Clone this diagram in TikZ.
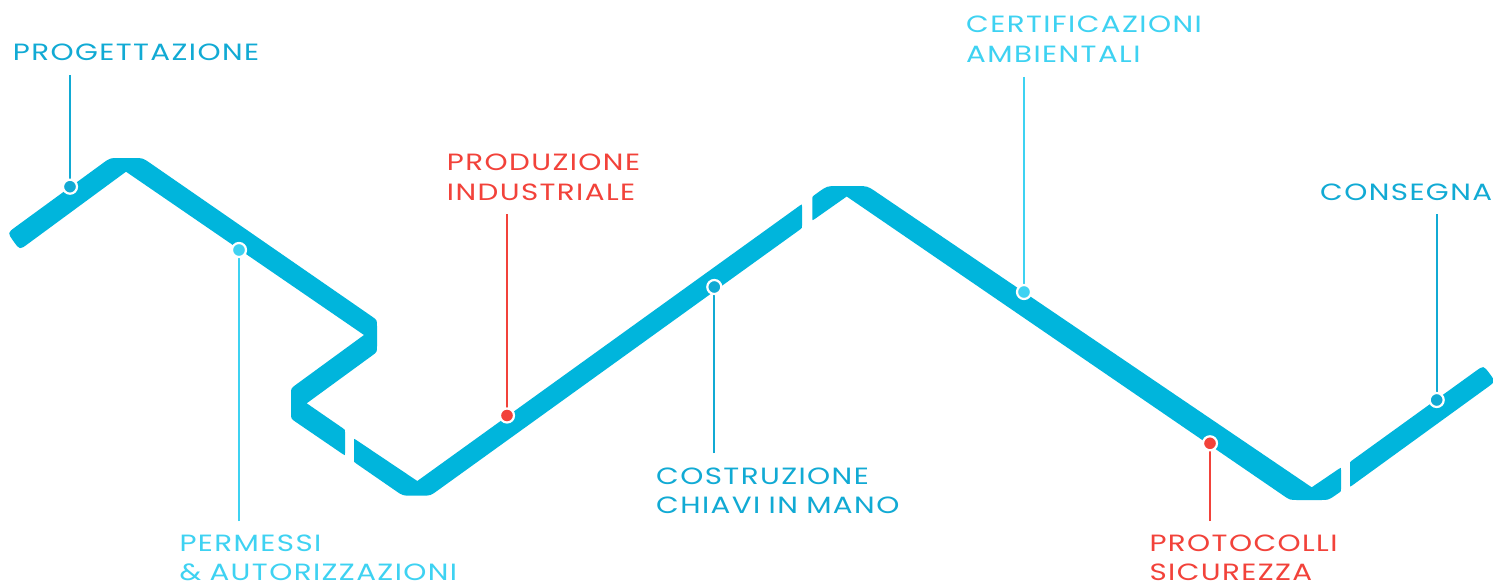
\documentclass[tikz,border=0pt]{standalone}
\usepackage{fontspec}
\setmainfont{Poppins}[FakeStretch=1.25, LetterSpace=6, WordSpace=0.9]
\usetikzlibrary{calc}
\definecolor{linec}{RGB}{0,181,220}
\definecolor{tblue}{RGB}{17,170,212}
\definecolor{tcyan}{RGB}{62,210,242}
\definecolor{tred}{RGB}{242,66,58}
\newcommand\rnd[4]{-- ($(#2)!#4!(#1)$) .. controls (#2) .. ($(#2)!#4!(#3)$)}
\tikzset{
  lbl/.style={inner sep=0pt, anchor=base west, align=left,
    font=\fontsize{23.5}{29.3}\selectfont},
  conn/.style={line width=2pt},
  dot/.style={circle, inner sep=0pt, minimum size=14pt, draw=white, line width=2.2pt},
}
\begin{document}
\begin{tikzpicture}[x=1pt,y=-1pt]
\fill[white] (0,0) rectangle (1493,583);
\useasboundingbox (0,0) rectangle (1493,583);
% piece 1
\coordinate (a1) at (7.5,232.8);
\coordinate (a2) at (110,158);
\coordinate (a3) at (142.8,158);
\coordinate (a4) at (377,320);
\coordinate (a5) at (377,352);
\coordinate (a6) at (306.7,403.3);
\coordinate (a7) at (345,429.7);
\coordinate (a8) at (345,455.6);
\coordinate (a9) at (291,418.7);
\coordinate (a10) at (291,388.3);
\coordinate (a11) at (364,335);
\coordinate (a12) at (126,171.7);
\coordinate (a13) at (19.7,249.9);
\fill[linec] ($(a1)!0.5!(a2)$) \rnd{a1}{a2}{a3}{9pt} \rnd{a2}{a3}{a4}{9pt}
  \rnd{a3}{a4}{a5}{6pt} \rnd{a4}{a5}{a6}{6pt} -- (a6)
  \rnd{a6}{a7}{a8}{2.5pt} \rnd{a7}{a8}{a9}{2.5pt}
  \rnd{a8}{a9}{a10}{6pt} \rnd{a9}{a10}{a11}{6pt} -- (a11) -- (a12)
  \rnd{a12}{a13}{a1}{10pt} \rnd{a13}{a1}{a2}{10pt} -- cycle;
% piece 2
\coordinate (b1) at (354,438.5);
\coordinate (b2) at (354,462);
\coordinate (b3) at (402.8,495.7);
\coordinate (b4) at (430.4,495.7);
\coordinate (b5) at (802,228.1);
\coordinate (b6) at (802,204);
\coordinate (b7) at (417.3,481);
\fill[linec] ($(b7)!0.5!(b1)$) \rnd{b7}{b1}{b2}{2.5pt} \rnd{b1}{b2}{b3}{2.5pt}
  \rnd{b2}{b3}{b4}{9pt} \rnd{b3}{b4}{b5}{9pt}
  \rnd{b4}{b5}{b6}{2.5pt} \rnd{b5}{b6}{b7}{2.5pt} -- (b7) -- cycle;
% piece 3
\coordinate (c1) at (812.3,220.7);
\coordinate (c2) at (812.3,196.6);
\coordinate (c3) at (827,186);
\coordinate (c4) at (867.4,186);
\coordinate (c5) at (1311.7,487.3);
\coordinate (c6) at (1341,467.4);
\coordinate (c7) at (1341,491.4);
\coordinate (c8) at (1328.4,500);
\coordinate (c9) at (1289.9,500);
\coordinate (c10) at (846.7,196.5);
\fill[linec] ($(c10)!0.5!(c1)$) \rnd{c10}{c1}{c2}{2.5pt} \rnd{c1}{c2}{c3}{2.5pt}
  \rnd{c2}{c3}{c4}{11pt} \rnd{c3}{c4}{c5}{11pt} -- (c5)
  \rnd{c5}{c6}{c7}{2.5pt} \rnd{c6}{c7}{c8}{2.5pt}
  \rnd{c7}{c8}{c9}{8pt} \rnd{c8}{c9}{c10}{8pt} -- (c10) -- cycle;
% piece 4
\coordinate (p1) at (1350,461.9);
\coordinate (p2) at (1483.5,365.5);
\coordinate (p3) at (1495.5,381.5);
\coordinate (p4) at (1350,487);
\fill[linec] ($(p1)!0.5!(p2)$) \rnd{p1}{p2}{p3}{9.5pt} \rnd{p2}{p3}{p4}{9.5pt}
  \rnd{p3}{p4}{p1}{2.5pt} \rnd{p4}{p1}{p2}{2.5pt} -- cycle;
% labels (base anchor = last line)
\node[lbl, text=tblue] (t1) at (12.7,60.7) {PROGETTAZIONE};
\node[lbl, text=tcyan] (t2) at (179.3,580.5) {PERMESSI\\\& AUTORIZZAZIONI};
\node[lbl, text=tred] (t3) at (446.7,200) {PRODUZIONE\\INDUSTRIALE};
\node[lbl, text=tblue] (t4) at (656,513.3) {COSTRUZIONE\\CHIAVI IN MANO};
\node[lbl, text=tcyan] (t5) at (966,62.3) {CERTIFICAZIONI\\AMBIENTALI};
\node[lbl, text=tred] (t6) at (1149.3,580.5) {PROTOCOLLI\\SICUREZZA};
\node[lbl, text=tblue] (t7) at (1320,200) {CONSEGNA};
% connector ends
\coordinate (e1) at (70,75);
\coordinate (e2) at (239,521);
\coordinate (e3) at (507,214);
\coordinate (e4) at (714.3,453);
\coordinate (e5) at (1024,77);
\coordinate (e6) at (1210,521);
\coordinate (e7) at (1436.7,214);
% dot positions
\coordinate (q1) at (70,186.7);
\coordinate (q2) at (239,250);
\coordinate (q3) at (507,415.5);
\coordinate (q4) at (714.3,287);
\coordinate (q5) at (1024,292);
\coordinate (q6) at (1210,443.3);
\coordinate (q7) at (1436.7,400);
\draw[conn, tblue] (e1) -- (q1);
\draw[conn, tcyan] (e2) -- (q2);
\draw[conn, tred] (e3) -- (q3);
\draw[conn, tblue] (e4) -- (q4);
\draw[conn, tcyan] (e5) -- (q5);
\draw[conn, tred] (e6) -- (q6);
\draw[conn, tblue] (e7) -- (q7);
\node[dot, fill=tblue] (d1) at (q1) {};
\node[dot, fill=tcyan] (d2) at (q2) {};
\node[dot, fill=tred] (d3) at (q3) {};
\node[dot, fill=tblue] (d4) at (q4) {};
\node[dot, fill=tcyan] (d5) at (q5) {};
\node[dot, fill=tred] (d6) at (q6) {};
\node[dot, fill=tblue] (d7) at (q7) {};
\end{tikzpicture}
\end{document}
